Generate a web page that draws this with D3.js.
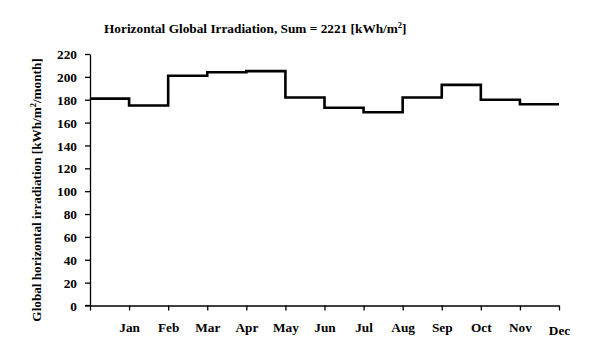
<!DOCTYPE html>
<html>
<head>
<meta charset="UTF-8">
<title>Horizontal Global Irradiation</title>
<style>
body { margin:0; background:#fff; }
svg { display:block; font-family:"Liberation Serif", "Times New Roman", serif; font-weight:bold; }
.axis path, .axis line { stroke:#000; stroke-width:1.3px; }
.axis text { font-size:13.3px; font-family:"Liberation Serif", serif; font-weight:bold; fill:#000; }
</style>
</head>
<body>
<svg width="595" height="359"></svg>
<script src="https://cdn.jsdelivr.net/npm/d3@7"></script>
<script>
const months = ['Jan','Feb','Mar','Apr','May','Jun','Jul','Aug','Sep','Oct','Nov','Dec'];
const values = [181, 175, 201, 204, 205, 182, 173, 169, 182, 193, 180, 176];
const yTicks = [0,20,40,60,80,100,120,140,160,180,200,220];

const svg = d3.select('svg');
const x = d3.scaleLinear().domain([0, 12]).range([90, 559]);
const y = d3.scaleLinear().domain([0, 220]).range([305.5, 54]);

// title
const title = svg.append('text').attr('x', 104).attr('y', 33).attr('font-size', 13.3);
title.append('tspan').text('Horizontal Global Irradiation, Sum = ' + d3.sum(values) + ' [kWh/m');
title.append('tspan').attr('font-size', 8.5).attr('dy', -5).text('2');
title.append('tspan').attr('dy', 5).text(']');

// y axis
svg.append('g').attr('class', 'axis')
  .attr('transform', 'translate(90,0)')
  .call(d3.axisLeft(y).tickValues(yTicks).tickSize(5).tickPadding(8).tickSizeOuter(0))
  .selectAll('text').attr('dy', '0.35em');

// x axis: ticks at month boundaries, labels under ticks 1..12
const xg = svg.append('g').attr('class', 'axis')
  .attr('transform', 'translate(0,305.5)')
  .call(d3.axisBottom(x).tickValues(d3.range(0, 13)).tickSize(5).tickSizeOuter(0).tickFormat(''));
xg.selectAll('.tick')
  .filter(d => d > 0)
  .append('text')
  .attr('y', d => d === 12 ? 25 : 22)
  .attr('dy', '0.35em')
  .text(d => months[d - 1]);
// left tick at origin
svg.append('line').attr('x1', 85).attr('x2', 90).attr('y1', y(0)).attr('y2', y(0))
  .attr('stroke', '#000').attr('stroke-width', 1.3);

// y label
const yl = svg.append('text')
  .attr('transform', 'translate(41,190) rotate(-90)')
  .attr('text-anchor', 'middle')
  .attr('font-size', 13.2);
yl.append('tspan').text('Global horizontal irradiation [kWh/m');
yl.append('tspan').attr('font-size', 8.5).attr('dy', -5).text('2');
yl.append('tspan').attr('dy', 5).text('/month]');

// step line
const pts = values.map((v, i) => [i, v]);
pts.push([12, values[11]]);
svg.append('path')
  .datum(pts)
  .attr('fill', 'none')
  .attr('stroke', '#000')
  .attr('stroke-width', 2.6)
  .attr('d', d3.line().x(d => x(d[0])).y(d => y(d[1])).curve(d3.curveStepAfter));
</script>
</body>
</html>
